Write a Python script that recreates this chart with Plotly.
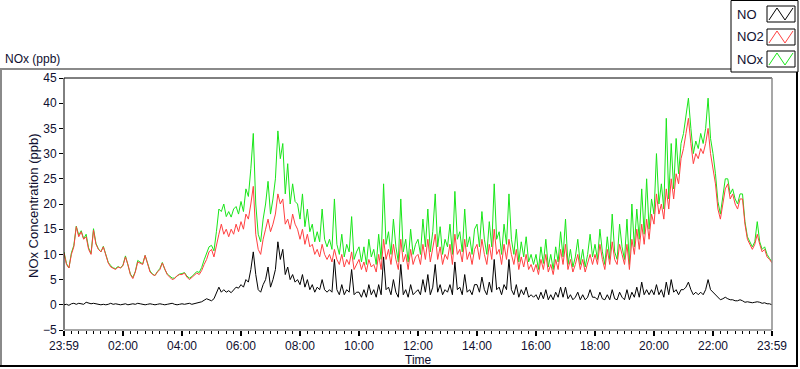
import numpy as np
import plotly.graph_objects as go

# ---- data: 5-minute readings from 00:00 to 24:00 (hours) ----
no2 = [
    10.3, 8, 7.3, 10, 11.5, 15.5, 13.5, 14.5, 13, 13.5, 11, 10,
    14.8, 12, 11, 10.5, 11.5, 10, 8.3, 7.5, 7.2, 7, 7.5, 7.3,
    7.8, 9.5, 8, 6, 5.2, 6.5, 8.5, 8.3, 8, 9.8, 8.2, 6.5,
    6, 5.8, 6.5, 7, 8.3, 7, 6, 5.5, 5, 5.2, 5.8, 6,
    6, 6.3, 5.5, 5, 5.5, 6, 6.3, 6, 6.8, 8, 9, 10.5,
    11, 9.5, 12, 14, 16, 14, 15, 13.5, 15, 14, 16, 14.5,
    16.5, 15, 18, 17, 20, 23.5, 14, 11, 10, 13, 15, 17,
    14.5, 16, 18, 22, 20, 21, 16, 17, 15, 18, 16, 15,
    13, 15, 12, 14, 11.5, 12, 10, 11, 9.5, 12, 10, 9,
    10, 8.5, 11, 9, 8, 10, 7.5, 9, 8, 10.5, 7, 8,
    9, 7, 8.5, 6.5, 9, 7.5, 8, 6.5, 10, 7, 13, 9,
    11, 8, 12, 9, 7, 13, 8.5, 10, 7, 11, 8, 9.5,
    10, 8, 12, 9, 13, 8.5, 11, 14, 9, 11.5, 8, 10,
    9, 12, 8, 14, 10, 11, 8.5, 13, 9, 10.5, 8, 11,
    12, 9, 13, 10, 8, 12, 9, 15, 10, 11, 8, 12,
    9, 13, 10, 8, 11, 7, 9.5, 7.5, 10, 7, 8, 6.5,
    8, 6, 9, 7, 10, 6.5, 8, 6, 9, 7, 11, 8,
    12, 7, 9, 6.5, 8, 10, 7, 9, 6.5, 8.5, 10, 8,
    10, 8, 12, 9, 7, 11, 8, 12.5, 9, 8, 12, 10,
    8, 12, 7, 13, 10, 15, 11, 16, 12, 17, 13, 18,
    16, 22, 18, 20, 17, 23, 19, 25, 21, 26, 24, 29,
    31, 34, 37, 32, 28, 30, 29, 31, 30, 32, 35, 30,
    27, 24, 19, 17, 20, 23, 24, 21, 22, 20, 19, 21,
    21, 16, 13, 12, 11, 12, 14, 12, 10.5, 11, 9.5, 9, 8.3,
]

no = [
    0, 0.1, -0.1, 0.2, 0.3, 0.1, 0.3, 0.2, 0.1, 0.5, 0.3, 0.2,
    0.3, 0.2, 0.1, 0, 0.1, 0, 0.1, 0.3, 0.1, 0.2, 0.1, 0,
    0.1, 0.2, 0, 0.1, 0.2, 0.1, 0.3, 0.2, 0.1, 0, 0.1, 0.2,
    0.1, 0, 0.1, 0.2, 0.1, 0, 0.1, 0.2, 0.3, 0.1, 0, 0.1,
    0.2, 0.1, 0.2, 0.3, 0.1, 0.2, 0.3, 0.4, 0.6, 0.9, 1.2, 1.0,
    0.8, 1.2, 2.5, 3.5, 2.5, 3, 2.5, 2.8, 2.4, 3, 3.5, 3.3,
    4, 3.5, 5, 4.5, 7, 10.5, 6, 3, 2.5, 4, 5, 7.5,
    3.5, 5, 7, 12.5, 9, 11, 6, 7.5, 5, 6, 4.5, 5,
    4, 6, 3.5, 5, 3, 4, 2.5, 3.5, 3, 5, 3, 2.5,
    3, 2.5, 9, 3, 2, 4, 2, 3, 2.5, 7, 2, 2.5,
    2.5, 1.5, 3, 1.5, 4, 2, 3, 1.5, 4, 2, 9.5, 3,
    3.5, 2, 5, 2.5, 1.5, 8, 2, 3, 1.5, 4, 2, 2.5,
    3, 2, 5, 2.5, 6, 2, 3.5, 8, 2.5, 4, 2, 3,
    2.5, 4, 2, 8.5, 3, 3.5, 2, 6, 2.5, 3, 2, 4,
    4, 2.5, 5.5, 3, 2, 4.5, 2.5, 9, 3, 3.5, 2, 4,
    3, 9, 3, 2, 4, 1.5, 3, 2, 3.5, 1.5, 2, 1.5,
    2, 1, 2.5, 1.2, 3, 1, 2, 1, 2.5, 1.5, 3.5, 1.5,
    3.5, 1.2, 2, 1, 1.5, 2.5, 1, 2, 1, 1.5, 3, 1.5,
    1.5, 1, 2.5, 1.2, 1, 2, 1, 3, 1.2, 1, 2.5, 1.5,
    1, 3, 1, 2.5, 1.5, 3.5, 1.5, 4.5, 2, 3, 2, 3,
    2, 4, 2, 3, 1.5, 4.5, 2, 5, 2.5, 3, 2, 3,
    3, 3.5, 4.5, 3, 2, 2.5, 2, 2.5, 2, 3, 5, 3,
    2.5, 2, 1.5, 1, 1.2, 1.5, 1.2, 1, 1, 0.8, 0.8, 1,
    0.8, 0.5, 0.6, 0.5, 0.4, 0.5, 0.6, 0.5, 0.3, 0.4, 0.2, 0.2, 0,
]

nox = [
    10.5, 8.2, 7.3, 10.3, 11.8, 15.6, 13.8, 14.7, 13.1, 14, 11.3, 10.2,
    15.1, 12.2, 11.1, 10.5, 11.6, 10, 8.4, 7.8, 7.3, 7.2, 7.6, 7.3,
    7.9, 9.7, 8, 6.1, 5.4, 6.6, 8.8, 8.5, 8.1, 9.8, 8.3, 6.7,
    6.1, 5.8, 6.6, 7.2, 8.4, 7, 6.1, 5.7, 5.3, 5.3, 5.8, 6.1,
    6.2, 6.4, 5.7, 5.3, 5.6, 6.2, 6.6, 6.4, 7.4, 8.9, 10.2, 11.5,
    11.8, 10.7, 14.5, 19, 18.5, 20, 17.5, 18.5, 17.4, 19, 19.5, 18,
    20.5, 18.5, 23, 21.5, 27, 34, 20, 14, 12.5, 17, 20, 24.5,
    18, 21, 25, 34.5, 29, 32, 22, 28, 20, 24, 20.5, 20,
    17, 22, 15.5, 19, 14.5, 16, 12.5, 14.5, 12.5, 19, 13, 11.5,
    13, 11, 21, 12, 10, 14, 9.5, 12, 10.5, 17.5, 9, 10.5,
    11.5, 8.5, 11.5, 8, 13, 9.5, 11, 8, 14, 9, 24, 12,
    14.5, 10, 17, 11.5, 8.5, 21, 10.5, 13, 8.5, 15, 10, 12,
    13, 10, 17, 11.5, 19, 10.5, 14.5, 22, 11.5, 15.5, 10, 13,
    11.5, 16, 10, 22.5, 13, 14.5, 10.5, 19, 11.5, 13.5, 10, 15,
    16, 11.5, 18.5, 13, 10, 16.5, 11.5, 24, 13, 14.5, 10, 16,
    12, 22, 13, 10, 15, 8.5, 12.5, 9.5, 13.5, 8.5, 10, 8,
    10, 7, 11.5, 8.2, 13, 7.5, 10, 7, 11.5, 8.5, 14.5, 9.5,
    17, 8, 11, 7.5, 9.5, 13, 8, 11, 7.5, 10, 14, 9.5,
    12, 9, 15, 10.5, 8, 13.5, 9, 18, 10.5, 9, 16, 11.5,
    9, 17, 8, 20, 11.5, 19, 13, 23, 14, 25, 15, 21,
    18, 30, 20, 24, 19, 37, 21, 32, 23, 33, 26, 32,
    34, 38, 41, 35, 30, 32.5, 31, 34, 32, 35, 41, 33,
    30, 26, 20.5, 18, 21.5, 25, 25, 22, 23, 21, 20, 22,
    22, 16.5, 13.5, 12.5, 11.5, 12.5, 16.5, 12.5, 11, 11.5, 10, 9.2, 8.5,
]

tick_hours = list(range(0, 25, 2))
tick_labels = ["23:59", "02:00", "04:00", "06:00", "08:00", "10:00", "12:00",
               "14:00", "16:00", "18:00", "20:00", "22:00", "23:59"]
series_names = ["NO", "NO2", "NOx"]
series_colors = ["#000000", "#FF4040", "#19E619"]

hours = np.arange(len(no2)) * 5.0 / 60.0

# ---- geometry helpers (pixel -> paper) ----
W, H = 800, 369
L, R, T, B = 64, 772, 78, 330


def px(x):
    return (x - L) / (R - L)


def py(y):
    return (B - y) / (B - T)


FONT = "Liberation Sans"
TXT = "#101030"

fig = go.Figure()
# draw order: NOx below, NO2, NO on top
for name, vals, col in [("NOx", nox, series_colors[2]),
                        ("NO2", no2, series_colors[1]),
                        ("NO", no, series_colors[0])]:
    fig.add_trace(go.Scatter(x=hours, y=vals, mode="lines", name=name,
                             line=dict(color=col, width=1), showlegend=False))

fig.update_layout(
    width=W, height=H,
    margin=dict(l=L, r=W - R, t=T, b=H - B),
    paper_bgcolor="white", plot_bgcolor="white",
    font=dict(family=FONT, size=12, color="#000000"),
    showlegend=False,
)
fig.update_xaxes(
    range=[0, 24], tickvals=tick_hours, ticktext=tick_labels,
    ticks="outside", ticklen=5, tickwidth=2, tickcolor="black",
    showgrid=False, zeroline=False, showline=False,
    minor=dict(dtick=0.25, ticks="outside", ticklen=3, tickwidth=1,
               tickcolor="black", showgrid=False),
    tickfont=dict(family=FONT, size=12, color=TXT),
)
fig.update_yaxes(
    range=[-5, 45], dtick=5, ticks="outside", ticklen=4, tickwidth=1,
    tickcolor="black", showgrid=False, zeroline=False, showline=False,
    tickfont=dict(family=FONT, size=12, color=TXT),
)

shapes = []
# plot area border: dark top/left, grey bottom/right
shapes.append(dict(type="line", xref="paper", yref="paper", x0=0, x1=0, y0=0, y1=1,
                   line=dict(color="black", width=1)))
shapes.append(dict(type="line", xref="paper", yref="paper", x0=0, x1=1, y0=1, y1=1,
                   line=dict(color="black", width=1)))
shapes.append(dict(type="line", xref="paper", yref="paper", x0=1, x1=1, y0=0, y1=1,
                   line=dict(color="#8a8a8a", width=1.5)))
shapes.append(dict(type="line", xref="paper", yref="paper", x0=0, x1=1, y0=0, y1=0,
                   line=dict(color="#8a8a8a", width=1.5)))
# outer frame
shapes.append(dict(type="line", xref="paper", yref="paper", x0=px(1), x1=px(1),
                   y0=py(69), y1=py(366), line=dict(color="#8a8a8a", width=2)))
shapes.append(dict(type="line", xref="paper", yref="paper", x0=px(0), x1=px(731),
                   y0=py(69), y1=py(69), line=dict(color="#8a8a8a", width=2)))
shapes.append(dict(type="line", xref="paper", yref="paper", x0=px(797), x1=px(797),
                   y0=py(72), y1=py(367), line=dict(color="black", width=2)))
shapes.append(dict(type="line", xref="paper", yref="paper", x0=px(0), x1=px(798),
                   y0=py(366), y1=py(366), line=dict(color="black", width=2)))
# legend box
shapes.append(dict(type="rect", xref="paper", yref="paper", x0=px(731), x1=px(798),
                   y0=py(72), y1=py(0.5), fillcolor="white",
                   line=dict(color="black", width=1)))

annotations = []
row_centers = [14, 37, 59]
for name, col, yc in zip(series_names, series_colors, row_centers):
    annotations.append(dict(x=px(735), y=py(yc), xref="paper", yref="paper",
                            text=name, showarrow=False, xanchor="left",
                            yanchor="middle", font=dict(family=FONT, size=13, color=TXT)))
    bx0, bx1, by0, by1 = 767, 795, yc - 8, yc + 8
    shapes.append(dict(type="rect", xref="paper", yref="paper",
                       x0=px(bx0), x1=px(bx1), y0=py(by1), y1=py(by0),
                       fillcolor="white", line=dict(color="black", width=1)))
    xs = [bx0 + 2, bx0 + 10, bx0 + 18, bx1 - 2]
    ys = [by1 - 2, by0 + 2, by1 - 2, by0 + 2]
    path = "M " + " L ".join(f"{px(a):.5f},{py(b):.5f}" for a, b in zip(xs, ys))
    shapes.append(dict(type="path", xref="paper", yref="paper", path=path,
                       line=dict(color=col, width=1)))

annotations.append(dict(x=px(3), y=py(59), xref="paper", yref="paper",
                        text="NOx (ppb)", showarrow=False, xanchor="left",
                        yanchor="middle", font=dict(family=FONT, size=12, color=TXT)))
annotations.append(dict(x=px(33), y=py(206), xref="paper", yref="paper",
                        text="NOx Concentration (ppb)", textangle=-90, showarrow=False,
                        xanchor="center", yanchor="middle",
                        font=dict(family=FONT, size=13, color=TXT)))
annotations.append(dict(x=px(418), y=py(360), xref="paper", yref="paper",
                        text="Time", showarrow=False, xanchor="center",
                        yanchor="middle", font=dict(family=FONT, size=12, color=TXT)))

fig.update_layout(shapes=shapes, annotations=annotations)
fig.write_html(
    "out.html",
    config={"displayModeBar": False},
    post_script="document.body.style.margin='0';document.body.style.overflow='hidden';",
)
